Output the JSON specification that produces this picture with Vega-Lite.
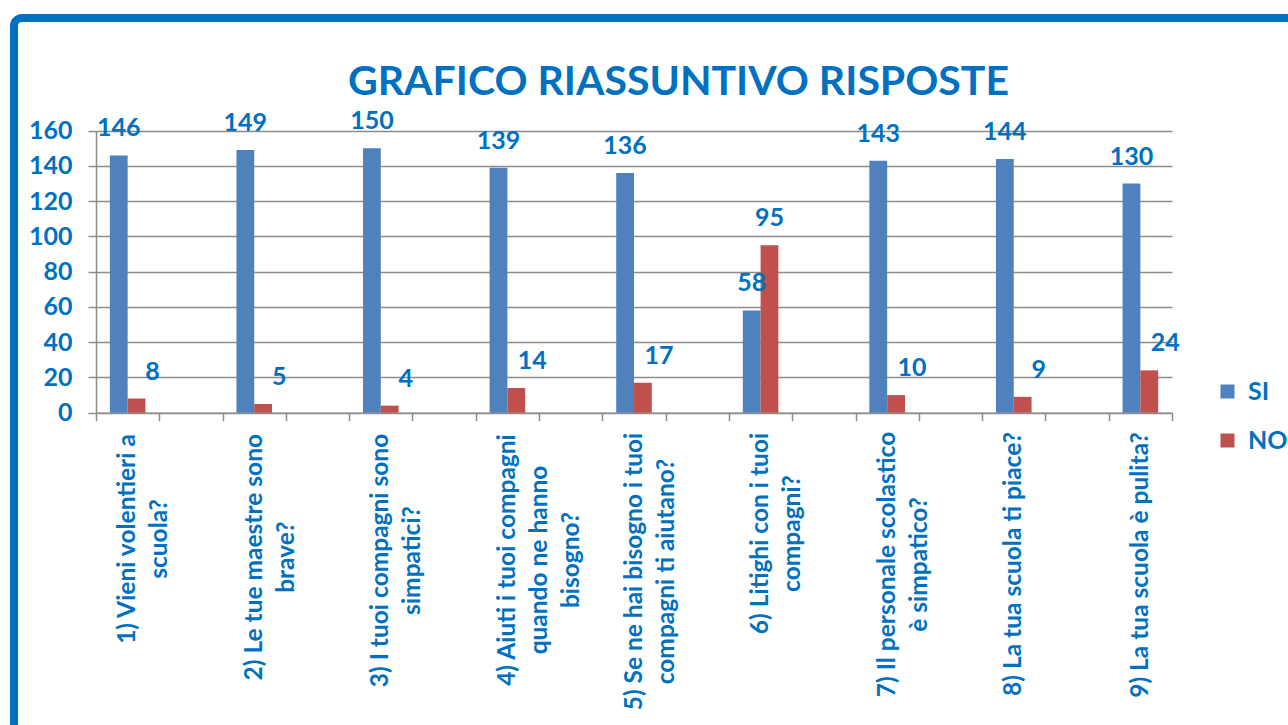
{
  "$schema": "https://vega.github.io/schema/vega-lite/v6.json",
  "width": 1290,
  "height": 720,
  "autosize": {"type": "none"},
  "padding": {"left": 14, "top": 18, "right": -16, "bottom": -13},
  "background": "white",
  "title": {
    "text": "GRAFICO RIASSUNTIVO RISPOSTE",
    "anchor": "middle",
    "frame": "group",
    "font": "Lato",
    "fontSize": 41,
    "fontWeight": "bold",
    "color": "#0070C0",
    "offset": 0,
    "baseline": "alphabetic",
    "dx": 19.5,
    "dy": 118
  },
  "data": {
    "values": [
      {"domanda": "1) Vieni volentieri a scuola?", "risposta": "SI", "valore": 146},
      {"domanda": "1) Vieni volentieri a scuola?", "risposta": "NO", "valore": 8},
      {"domanda": "2) Le tue maestre sono brave?", "risposta": "SI", "valore": 149},
      {"domanda": "2) Le tue maestre sono brave?", "risposta": "NO", "valore": 5},
      {"domanda": "3) I tuoi compagni sono simpatici?", "risposta": "SI", "valore": 150},
      {"domanda": "3) I tuoi compagni sono simpatici?", "risposta": "NO", "valore": 4},
      {"domanda": "4) Aiuti i tuoi compagni quando ne hanno bisogno?", "risposta": "SI", "valore": 139},
      {"domanda": "4) Aiuti i tuoi compagni quando ne hanno bisogno?", "risposta": "NO", "valore": 14},
      {"domanda": "5) Se ne hai bisogno i tuoi compagni ti aiutano?", "risposta": "SI", "valore": 136},
      {"domanda": "5) Se ne hai bisogno i tuoi compagni ti aiutano?", "risposta": "NO", "valore": 17},
      {"domanda": "6) Litighi con i tuoi compagni?", "risposta": "SI", "valore": 58},
      {"domanda": "6) Litighi con i tuoi compagni?", "risposta": "NO", "valore": 95},
      {"domanda": "7) Il personale scolastico è simpatico?", "risposta": "SI", "valore": 143},
      {"domanda": "7) Il personale scolastico è simpatico?", "risposta": "NO", "valore": 10},
      {"domanda": "8) La tua scuola ti piace?", "risposta": "SI", "valore": 144},
      {"domanda": "8) La tua scuola ti piace?", "risposta": "NO", "valore": 9},
      {"domanda": "9) La tua scuola è pulita?", "risposta": "SI", "valore": 130},
      {"domanda": "9) La tua scuola è pulita?", "risposta": "NO", "valore": 24}
    ]
  },
  "encoding": {
    "x": {
      "field": "domanda",
      "type": "nominal",
      "sort": null,
      "scale": {
        "domain": [
          "1) Vieni volentieri a scuola?", "gap1",
          "2) Le tue maestre sono brave?", "gap2",
          "3) I tuoi compagni sono simpatici?", "gap3",
          "4) Aiuti i tuoi compagni quando ne hanno bisogno?", "gap4",
          "5) Se ne hai bisogno i tuoi compagni ti aiutano?", "gap5",
          "6) Litighi con i tuoi compagni?", "gap6",
          "7) Il personale scolastico è simpatico?", "gap7",
          "8) La tua scuola ti piace?", "gap8",
          "9) La tua scuola è pulita?"
        ],
        "range": [82, 1158],
        "paddingInner": 0,
        "paddingOuter": 0
      },
      "axis": {
        "title": null,
        "orient": "bottom",
        "offset": -325.3,
        "grid": false,
        "tickBand": "extent",
        "tickSize": 8,
        "tickColor": "#8c8c8c",
        "tickWidth": 1.5,
        "domainColor": "#8c8c8c",
        "domainWidth": 1.5,
        "labelAngle": 270,
        "labelAlign": "center",
        "labelBaseline": "middle",
        "labelLineHeight": 32,
        "labelFont": "Lato",
        "labelFontSize": 24.5,
        "labelFontWeight": "bold",
        "labelColor": "#0070C0",
        "labelLimit": 1000,
        "labelOverlap": false,
        "labelPadding": {"expr": "isString(datum.value) && indexof(datum.value, ')') == 1 ? [117.8, 136, 139.3, 138.8, 150.3, 112.3, 143.3, 142.8, 143.8][toNumber(slice(datum.value, 0, 1)) - 1] : 0"},
        "labelExpr": "isString(datum.value) && indexof(datum.value, ')') == 1 ? [['1) Vieni volentieri a', 'scuola?'], ['2) Le tue maestre sono', 'brave?'], ['3) I tuoi compagni sono', 'simpatici?'], ['4) Aiuti i tuoi compagni', 'quando ne hanno', 'bisogno?'], ['5) Se ne hai bisogno i tuoi', 'compagni ti aiutano?'], ['6) Litighi con i tuoi', 'compagni?'], ['7) Il personale scolastico', 'è simpatico?'], ['8) La tua scuola ti piace?'], ['9) La tua scuola è pulita?']][toNumber(slice(datum.value, 0, 1)) - 1] : ''"
      }
    },
    "y": {
      "field": "valore",
      "type": "quantitative",
      "scale": {"domain": [0, 160], "range": [394.7, 112.7], "nice": false, "zero": true},
      "axis": {
        "title": null,
        "offset": -82,
        "values": [0, 20, 40, 60, 80, 100, 120, 140, 160],
        "grid": true,
        "gridColor": "#8c8c8c",
        "gridWidth": 1.5,
        "tickSize": 8,
        "tickColor": "#8c8c8c",
        "tickWidth": 1.5,
        "domainColor": "#8c8c8c",
        "domainWidth": 1.5,
        "labelPadding": 16,
        "labelFont": "Lato",
        "labelFontSize": 25,
        "labelFontWeight": "bold",
        "labelColor": "#0070C0"
      }
    }
  },
  "layer": [
    {
      "transform": [{"filter": "datum.risposta == 'SI'"}],
      "mark": {"type": "bar", "width": 17.8, "xOffset": -8.9},
      "encoding": {
        "color": {
          "field": "risposta",
          "type": "nominal",
          "scale": {"domain": ["SI", "NO"], "range": ["#4F81BD", "#C0504D"]},
          "legend": {
            "title": null,
            "orient": "none",
            "legendX": 1201,
            "legendY": 361,
            "symbolType": "square",
            "symbolSize": 196,
            "symbolStrokeWidth": 0,
            "labelFont": "Lato",
            "labelFontSize": 25,
            "labelFontWeight": "bold",
            "labelColor": "#0070C0",
            "labelOffset": 8,
            "rowPadding": 23,
            "padding": 0
          }
        }
      }
    },
    {
      "transform": [{"filter": "datum.risposta == 'NO'"}],
      "mark": {"type": "bar", "width": 17.8, "xOffset": 8.9},
      "encoding": {
        "color": {"field": "risposta", "type": "nominal"}
      }
    },
    {
      "transform": [{"filter": "datum.risposta == 'SI'"}],
      "mark": {"type": "text", "font": "Lato", "fontSize": 25, "fontWeight": "bold", "color": "#0070C0", "baseline": "middle", "dy": -27, "xOffset": -8.9},
      "encoding": {"text": {"field": "valore", "type": "quantitative"}}
    },
    {
      "transform": [{"filter": "datum.risposta == 'NO' && datum.valore >= 50"}],
      "mark": {"type": "text", "font": "Lato", "fontSize": 25, "fontWeight": "bold", "color": "#0070C0", "baseline": "middle", "dy": -27, "xOffset": 8.9},
      "encoding": {"text": {"field": "valore", "type": "quantitative"}}
    },
    {
      "transform": [{"filter": "datum.risposta == 'NO' && datum.valore < 50"}],
      "mark": {"type": "text", "font": "Lato", "fontSize": 25, "fontWeight": "bold", "color": "#0070C0", "baseline": "middle", "dy": -27, "xOffset": 24.9},
      "encoding": {"text": {"field": "valore", "type": "quantitative"}}
    }
  ],
  "config": {
    "view": {"stroke": "#0070C0", "strokeWidth": 8, "cornerRadius": 8}
  }
}
